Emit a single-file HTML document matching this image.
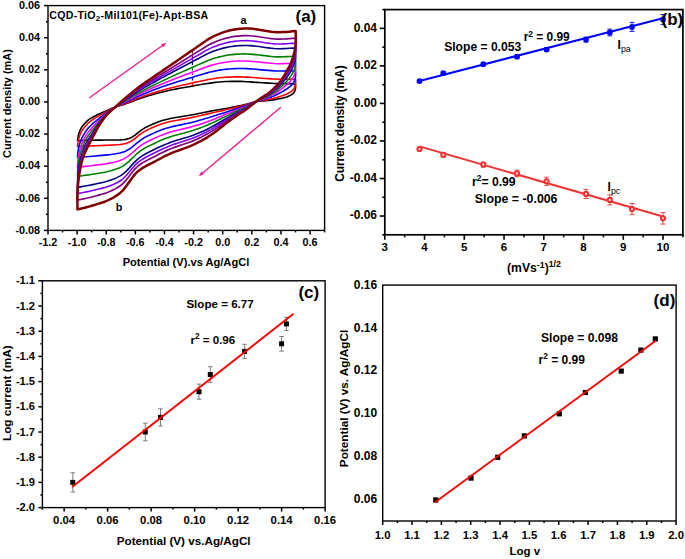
<!DOCTYPE html>
<html><head><meta charset="utf-8"><style>
html,body{margin:0;padding:0;background:#fff;}
body{width:685px;height:559px;overflow:hidden;}
svg{display:block;}
text{fill:#000;}
</style></head><body>
<svg width="685" height="559" viewBox="0 0 685 559" font-family='"Liberation Sans", sans-serif'>
<rect width="685" height="559" fill="#fff"/>
<path d="M77.50,140.50 L77.78,138.65 L78.07,136.80 L78.44,134.96 L78.97,133.16 L79.62,131.41 L80.37,129.69 L81.22,128.02 L82.21,126.43 L83.38,124.96 L84.64,123.58 L85.92,122.22 L87.26,120.91 L88.70,119.71 L90.24,118.64 L91.85,117.68 L93.50,116.79 L95.16,115.92 L96.83,115.08 L98.53,114.28 L100.23,113.51 L101.95,112.76 L103.67,112.01 L105.38,111.25 L107.10,110.50 L108.81,109.75 L110.53,109.00 L112.24,108.23 L113.94,107.45 L115.70,106.80 L118.75,105.89 L121.80,105.03 L124.85,104.11 L127.90,103.06 L130.95,101.88 L133.99,100.69 L137.04,99.53 L140.09,98.47 L143.14,97.48 L146.19,96.52 L149.24,95.59 L152.29,94.69 L155.34,93.81 L158.39,92.98 L161.44,92.19 L164.49,91.45 L167.54,90.75 L170.58,90.09 L173.63,89.46 L176.68,88.85 L179.73,88.28 L182.78,87.74 L185.83,87.21 L188.88,86.69 L191.93,86.14 L194.98,85.55 L198.03,85.01 L201.08,84.53 L204.13,84.05 L207.17,83.56 L210.22,83.09 L213.27,82.66 L216.32,82.27 L219.37,81.96 L222.42,81.72 L225.47,81.55 L228.52,81.44 L231.57,81.37 L234.62,81.35 L237.67,81.37 L240.72,81.42 L243.76,81.52 L246.81,81.69 L249.86,81.89 L252.91,82.11 L255.96,82.33 L259.01,82.54 L262.06,82.72 L265.11,82.91 L268.16,83.10 L271.21,83.28 L274.26,83.44 L277.31,83.58 L280.35,83.65 L283.40,83.64 L286.45,83.59 L289.50,83.60 L292.55,83.82 L295.60,84.20 L295.64,85.86 L295.56,87.52 L295.37,89.17 L294.89,90.76 L294.13,92.23 L293.09,93.52 L291.80,94.57 L290.36,95.39 L288.84,96.06 L287.29,96.65 L285.71,97.17 L284.12,97.63 L282.51,98.05 L280.89,98.42 L279.26,98.76 L277.63,99.07 L276.00,99.36 L274.36,99.63 L272.72,99.89 L271.07,100.14 L269.43,100.38 L267.78,100.58 L266.13,100.75 L264.47,100.89 L262.82,101.03 L261.16,101.17 L259.50,101.27 L257.85,101.38 L256.20,101.60 L253.17,102.32 L250.14,103.16 L247.11,103.99 L244.08,104.71 L241.06,105.41 L238.03,106.09 L235.00,106.75 L231.97,107.37 L228.94,107.95 L225.91,108.48 L222.88,108.99 L219.85,109.49 L216.83,110.00 L213.80,110.53 L210.77,111.11 L207.74,111.71 L204.71,112.34 L201.68,112.96 L198.65,113.58 L195.62,114.18 L192.59,114.74 L189.57,115.28 L186.54,115.80 L183.51,116.31 L180.48,116.82 L177.45,117.32 L174.42,117.79 L171.39,118.31 L168.36,118.97 L165.34,119.72 L162.31,120.57 L159.28,121.55 L156.25,122.71 L153.22,123.98 L150.19,125.29 L147.16,126.66 L144.13,128.31 L141.11,130.30 L138.08,132.67 L135.05,135.17 L132.02,137.19 L128.99,138.59 L125.96,139.36 L122.93,139.74 L119.90,139.89 L116.87,139.96 L113.85,140.02 L110.82,140.04 L107.79,140.05 L104.76,140.06 L101.73,140.08 L98.70,140.12 L95.67,140.17 L92.64,140.22 L89.62,140.27 L86.59,140.33 L83.56,140.39 L80.53,140.44 L77.50,140.50 Z" fill="none" stroke="#000000" stroke-width="1.6" stroke-linejoin="round"/>
<path d="M77.50,146.43 L77.75,144.40 L78.01,142.37 L78.35,140.35 L78.84,138.37 L79.45,136.43 L80.16,134.53 L80.97,132.67 L81.92,130.88 L83.02,129.21 L84.23,127.61 L85.47,126.03 L86.77,124.51 L88.18,123.09 L89.69,121.80 L91.29,120.61 L92.94,119.48 L94.61,118.40 L96.30,117.33 L98.00,116.30 L99.72,115.30 L101.45,114.31 L103.18,113.33 L104.92,112.36 L106.67,111.38 L108.44,110.43 L110.23,109.49 L112.03,108.54 L113.84,107.61 L115.70,106.80 L118.75,105.73 L121.80,104.71 L124.85,103.63 L127.90,102.44 L130.95,101.15 L133.99,99.85 L137.04,98.58 L140.09,97.41 L143.14,96.31 L146.19,95.25 L149.24,94.23 L152.29,93.22 L155.34,92.25 L158.39,91.31 L161.44,90.41 L164.49,89.55 L167.54,88.74 L170.58,87.95 L173.63,87.19 L176.68,86.46 L179.73,85.75 L182.78,85.08 L185.83,84.41 L188.88,83.75 L191.93,83.07 L194.98,82.35 L198.03,81.68 L201.08,81.07 L204.13,80.43 L207.17,79.81 L210.22,79.22 L213.27,78.69 L216.32,78.21 L219.37,77.82 L222.42,77.50 L225.47,77.26 L228.52,77.08 L231.57,76.96 L234.62,76.89 L237.67,76.87 L240.72,76.89 L243.76,76.97 L246.81,77.11 L249.86,77.30 L252.91,77.53 L255.96,77.76 L259.01,77.99 L262.06,78.21 L265.11,78.43 L268.16,78.64 L271.21,78.84 L274.26,79.03 L277.31,79.17 L280.35,79.23 L283.40,79.21 L286.45,79.14 L289.50,79.13 L292.55,79.30 L295.60,79.62 L295.65,81.40 L295.58,83.17 L295.41,84.93 L294.96,86.63 L294.24,88.23 L293.27,89.67 L292.04,90.87 L290.65,91.87 L289.20,92.73 L287.70,93.50 L286.17,94.21 L284.60,94.87 L283.01,95.47 L281.41,96.04 L279.80,96.57 L278.18,97.07 L276.55,97.55 L274.91,98.01 L273.25,98.45 L271.59,98.86 L269.91,99.26 L268.22,99.62 L266.52,99.94 L264.81,100.24 L263.08,100.50 L261.36,100.77 L259.63,101.00 L257.91,101.25 L256.20,101.60 L253.17,102.45 L250.14,103.43 L247.11,104.41 L244.08,105.26 L241.06,106.04 L238.03,106.83 L235.00,107.62 L231.97,108.37 L228.94,109.09 L225.91,109.78 L222.88,110.45 L219.85,111.11 L216.83,111.78 L213.80,112.46 L210.77,113.17 L207.74,113.89 L204.71,114.62 L201.68,115.34 L198.65,116.04 L195.62,116.72 L192.59,117.36 L189.57,117.96 L186.54,118.53 L183.51,119.09 L180.48,119.65 L177.45,120.20 L174.42,120.72 L171.39,121.31 L168.36,122.03 L165.34,122.84 L162.31,123.74 L159.28,124.78 L156.25,125.98 L153.22,127.28 L150.19,128.61 L147.16,129.99 L144.13,131.64 L141.11,133.62 L138.08,135.98 L135.05,138.52 L132.02,140.69 L128.99,142.35 L125.96,143.42 L122.93,144.09 L119.90,144.47 L116.87,144.73 L113.85,144.95 L110.82,145.11 L107.79,145.24 L104.76,145.36 L101.73,145.46 L98.70,145.58 L95.67,145.71 L92.64,145.84 L89.62,145.96 L86.59,146.08 L83.56,146.20 L80.53,146.31 L77.50,146.43 Z" fill="none" stroke="#ff0000" stroke-width="1.6" stroke-linejoin="round"/>
<line x1="192.4" y1="83.1" x2="192.4" y2="86.1" stroke="#ff0000" stroke-width="1.2"/>
<path d="M77.50,157.38 L77.69,155.02 L77.90,152.67 L78.18,150.32 L78.60,148.01 L79.14,145.73 L79.77,143.47 L80.50,141.26 L81.36,139.11 L82.37,137.05 L83.48,135.06 L84.64,133.09 L85.87,131.17 L87.21,129.34 L88.68,127.63 L90.26,126.02 L91.91,124.47 L93.60,122.97 L95.31,121.48 L97.04,120.03 L98.78,118.60 L100.52,117.19 L102.27,115.78 L104.07,114.39 L105.89,113.02 L107.75,111.68 L109.66,110.38 L111.63,109.12 L113.64,107.91 L115.70,106.80 L118.75,105.43 L121.80,104.11 L124.85,102.74 L127.90,101.30 L130.95,99.79 L133.99,98.29 L137.04,96.82 L140.09,95.44 L143.14,94.16 L146.19,92.92 L149.24,91.71 L152.29,90.52 L155.34,89.35 L158.39,88.21 L161.44,87.11 L164.49,86.04 L167.54,85.01 L170.58,84.00 L173.63,83.01 L176.68,82.03 L179.73,81.09 L182.78,80.16 L185.83,79.24 L188.88,78.33 L191.93,77.40 L194.98,76.45 L198.03,75.54 L201.08,74.66 L204.13,73.76 L207.17,72.87 L210.22,72.06 L213.27,71.35 L216.32,70.71 L219.37,70.16 L222.42,69.70 L225.47,69.33 L228.52,69.03 L231.57,68.81 L234.62,68.65 L237.67,68.55 L240.72,68.51 L243.76,68.54 L246.81,68.65 L249.86,68.83 L252.91,69.06 L255.96,69.32 L259.01,69.58 L262.06,69.86 L265.11,70.14 L268.16,70.40 L271.21,70.65 L274.26,70.87 L277.31,71.02 L280.35,71.07 L283.40,71.02 L286.45,70.92 L289.50,70.87 L292.55,70.96 L295.60,71.17 L295.66,73.14 L295.61,75.12 L295.47,77.09 L295.09,79.01 L294.46,80.84 L293.59,82.53 L292.46,84.03 L291.20,85.35 L289.86,86.55 L288.47,87.69 L287.02,88.75 L285.50,89.75 L283.94,90.71 L282.38,91.63 L280.80,92.51 L279.20,93.37 L277.58,94.20 L275.93,95.00 L274.25,95.77 L272.53,96.50 L270.79,97.19 L269.02,97.85 L267.24,98.46 L265.43,99.02 L263.58,99.53 L261.71,100.02 L259.86,100.50 L258.02,101.01 L256.20,101.60 L253.17,102.71 L250.14,103.93 L247.11,105.18 L244.08,106.28 L241.06,107.21 L238.03,108.21 L235.00,109.22 L231.97,110.23 L228.94,111.22 L225.91,112.19 L222.88,113.15 L219.85,114.10 L216.83,115.07 L213.80,116.03 L210.77,116.98 L207.74,117.92 L204.71,118.85 L201.68,119.74 L198.65,120.59 L195.62,121.41 L192.59,122.20 L189.57,122.92 L186.54,123.58 L183.51,124.23 L180.48,124.88 L177.45,125.52 L174.42,126.15 L171.39,126.85 L168.36,127.68 L165.34,128.60 L162.31,129.62 L159.28,130.75 L156.25,132.03 L153.22,133.38 L150.19,134.75 L147.16,136.16 L144.13,137.81 L141.11,139.77 L138.08,142.11 L135.05,144.71 L132.02,147.17 L128.99,149.31 L125.96,150.92 L122.93,152.14 L119.90,152.95 L116.87,153.54 L113.85,154.05 L110.82,154.48 L107.79,154.84 L104.76,155.16 L101.73,155.42 L98.70,155.67 L95.67,155.95 L92.64,156.22 L89.62,156.48 L86.59,156.71 L83.56,156.94 L80.53,157.16 L77.50,157.38 Z" fill="none" stroke="#0000ff" stroke-width="1.6" stroke-linejoin="round"/>
<line x1="192.4" y1="77.4" x2="192.4" y2="80.4" stroke="#0000ff" stroke-width="1.2"/>
<path d="M77.50,167.23 L77.64,164.58 L77.80,161.93 L78.02,159.29 L78.38,156.67 L78.85,154.08 L79.42,151.52 L80.08,148.98 L80.87,146.51 L81.79,144.10 L82.81,141.76 L83.89,139.44 L85.06,137.16 L86.34,134.96 L87.76,132.87 L89.32,130.88 L90.99,128.96 L92.68,127.07 L94.42,125.22 L96.17,123.39 L97.92,121.57 L99.68,119.77 L101.46,117.98 L103.30,116.23 L105.19,114.50 L107.14,112.81 L109.15,111.19 L111.27,109.64 L113.47,108.18 L115.70,106.80 L118.75,105.17 L121.80,103.56 L124.85,101.93 L127.90,100.27 L130.95,98.58 L133.99,96.90 L137.04,95.24 L140.09,93.68 L143.14,92.22 L146.19,90.82 L149.24,89.44 L152.29,88.09 L155.34,86.75 L158.39,85.44 L161.44,84.14 L164.49,82.89 L167.54,81.65 L170.58,80.44 L173.63,79.24 L176.68,78.05 L179.73,76.89 L182.78,75.73 L185.83,74.59 L188.88,73.45 L191.93,72.30 L194.98,71.14 L198.03,70.01 L201.08,68.90 L204.13,67.75 L207.17,66.63 L210.22,65.63 L213.27,64.75 L216.32,63.96 L219.37,63.28 L222.42,62.69 L225.47,62.19 L228.52,61.79 L231.57,61.47 L234.62,61.24 L237.67,61.07 L240.72,60.98 L243.76,60.97 L246.81,61.05 L249.86,61.21 L252.91,61.44 L255.96,61.72 L259.01,62.02 L262.06,62.35 L265.11,62.68 L268.16,62.99 L271.21,63.28 L274.26,63.53 L277.31,63.69 L280.35,63.72 L283.40,63.65 L286.45,63.53 L289.50,63.44 L292.55,63.45 L295.60,63.56 L295.67,65.72 L295.65,67.88 L295.53,70.03 L295.21,72.15 L294.66,74.19 L293.88,76.12 L292.85,77.88 L291.68,79.49 L290.45,81.00 L289.16,82.46 L287.78,83.84 L286.30,85.16 L284.78,86.42 L283.24,87.66 L281.70,88.87 L280.12,90.04 L278.50,91.18 L276.85,92.29 L275.14,93.36 L273.38,94.37 L271.58,95.34 L269.75,96.25 L267.89,97.13 L265.99,97.94 L264.02,98.66 L262.04,99.35 L260.07,100.05 L258.13,100.79 L256.20,101.60 L253.17,102.93 L250.14,104.38 L247.11,105.88 L244.08,107.19 L241.06,108.26 L238.03,109.44 L235.00,110.67 L231.97,111.90 L228.94,113.13 L225.91,114.35 L222.88,115.57 L219.85,116.79 L216.83,118.02 L213.80,119.23 L210.77,120.41 L207.74,121.55 L204.71,122.65 L201.68,123.70 L198.65,124.69 L195.62,125.63 L192.59,126.55 L189.57,127.37 L186.54,128.12 L183.51,128.85 L180.48,129.58 L177.45,130.32 L174.42,131.04 L171.39,131.84 L168.36,132.77 L165.34,133.79 L162.31,134.90 L159.28,136.12 L156.25,137.46 L153.22,138.87 L150.19,140.27 L147.16,141.70 L144.13,143.36 L141.11,145.29 L138.08,147.62 L135.05,150.28 L132.02,153.00 L128.99,155.56 L125.96,157.66 L122.93,159.38 L119.90,160.57 L116.87,161.46 L113.85,162.24 L110.82,162.91 L107.79,163.47 L104.76,163.98 L101.73,164.37 L98.70,164.75 L95.67,165.16 L92.64,165.56 L89.62,165.93 L86.59,166.27 L83.56,166.60 L80.53,166.92 L77.50,167.23 Z" fill="none" stroke="#ff00ff" stroke-width="1.6" stroke-linejoin="round"/>
<line x1="192.4" y1="72.3" x2="192.4" y2="75.3" stroke="#ff00ff" stroke-width="1.2"/>
<path d="M77.50,176.40 L77.60,173.47 L77.71,170.55 L77.88,167.63 L78.17,164.73 L78.59,161.85 L79.09,159.00 L79.69,156.17 L80.41,153.39 L81.25,150.67 L82.19,147.99 L83.20,145.34 L84.30,142.73 L85.54,140.19 L86.91,137.74 L88.46,135.40 L90.13,133.13 L91.83,130.90 L93.59,128.69 L95.37,126.51 L97.13,124.34 L98.90,122.17 L100.70,120.03 L102.59,117.93 L104.54,115.87 L106.56,113.86 L108.68,111.93 L110.94,110.13 L113.31,108.43 L115.70,106.80 L118.75,104.92 L121.80,103.06 L124.85,101.19 L127.90,99.31 L130.95,97.44 L133.99,95.60 L137.04,93.77 L140.09,92.04 L143.14,90.42 L146.19,88.86 L149.24,87.33 L152.29,85.83 L155.34,84.33 L158.39,82.85 L161.44,81.39 L164.49,79.95 L167.54,78.53 L170.58,77.13 L173.63,75.74 L176.68,74.35 L179.73,72.98 L182.78,71.62 L185.83,70.26 L188.88,68.91 L191.93,67.56 L194.98,66.20 L198.03,64.86 L201.08,63.55 L204.13,62.17 L207.17,60.83 L210.22,59.64 L213.27,58.60 L216.32,57.69 L219.37,56.87 L222.42,56.16 L225.47,55.56 L228.52,55.05 L231.57,54.65 L234.62,54.34 L237.67,54.12 L240.72,53.97 L243.76,53.92 L246.81,53.97 L249.86,54.12 L252.91,54.36 L255.96,54.66 L259.01,54.98 L262.06,55.36 L265.11,55.75 L268.16,56.10 L271.21,56.43 L274.26,56.70 L277.31,56.87 L280.35,56.89 L283.40,56.79 L286.45,56.65 L289.50,56.52 L292.55,56.47 L295.60,56.48 L295.68,58.81 L295.68,61.15 L295.59,63.47 L295.31,65.77 L294.84,68.01 L294.15,70.15 L293.21,72.16 L292.13,74.04 L291.00,75.84 L289.80,77.59 L288.48,79.27 L287.05,80.88 L285.56,82.43 L284.05,83.97 L282.53,85.48 L280.98,86.95 L279.36,88.38 L277.70,89.78 L275.98,91.12 L274.17,92.39 L272.31,93.61 L270.42,94.77 L268.49,95.88 L266.50,96.92 L264.44,97.85 L262.34,98.72 L260.27,99.63 L258.22,100.58 L256.20,101.60 L253.17,103.14 L250.14,104.79 L247.11,106.52 L244.08,108.04 L241.06,109.24 L238.03,110.59 L235.00,112.01 L231.97,113.45 L228.94,114.90 L225.91,116.37 L222.88,117.83 L219.85,119.29 L216.83,120.77 L213.80,122.22 L210.77,123.59 L207.74,124.92 L204.71,126.19 L201.68,127.38 L198.65,128.49 L195.62,129.56 L192.59,130.60 L189.57,131.52 L186.54,132.35 L183.51,133.15 L180.48,133.96 L177.45,134.77 L174.42,135.58 L171.39,136.48 L168.36,137.50 L165.34,138.61 L162.31,139.81 L159.28,141.11 L156.25,142.52 L153.22,143.97 L150.19,145.40 L147.16,146.86 L144.13,148.52 L141.11,150.43 L138.08,152.74 L135.05,155.46 L132.02,158.42 L128.99,161.38 L125.96,163.93 L122.93,166.12 L119.90,167.66 L116.87,168.83 L113.85,169.86 L110.82,170.75 L107.79,171.50 L104.76,172.17 L101.73,172.70 L98.70,173.20 L95.67,173.73 L92.64,174.25 L89.62,174.73 L86.59,175.16 L83.56,175.58 L80.53,175.99 L77.50,176.40 Z" fill="none" stroke="#008000" stroke-width="1.6" stroke-linejoin="round"/>
<line x1="192.4" y1="67.6" x2="192.4" y2="70.6" stroke="#008000" stroke-width="1.2"/>
<path d="M77.50,187.35 L77.54,184.10 L77.59,180.85 L77.70,177.60 L77.93,174.37 L78.27,171.15 L78.70,167.94 L79.22,164.76 L79.85,161.61 L80.60,158.51 L81.44,155.44 L82.37,152.40 L83.40,149.39 L84.57,146.44 L85.89,143.57 L87.42,140.81 L89.10,138.12 L90.82,135.47 L92.60,132.85 L94.40,130.25 L96.18,127.65 L97.97,125.05 L99.80,122.48 L101.74,119.97 L103.76,117.51 L105.87,115.12 L108.11,112.83 L110.54,110.71 L113.12,108.74 L115.70,106.80 L118.75,104.62 L121.80,102.46 L124.85,100.30 L127.90,98.17 L130.95,96.09 L133.99,94.05 L137.04,92.01 L140.09,90.08 L143.14,88.27 L146.19,86.53 L149.24,84.82 L152.29,83.12 L155.34,81.44 L158.39,79.76 L161.44,78.09 L164.49,76.44 L167.54,74.80 L170.58,73.18 L173.63,71.55 L176.68,69.93 L179.73,68.31 L182.78,66.70 L185.83,65.09 L188.88,63.49 L191.93,61.89 L194.98,60.29 L198.03,58.72 L201.08,57.14 L204.13,55.49 L207.17,53.89 L210.22,52.48 L213.27,51.26 L216.32,50.18 L219.37,49.22 L222.42,48.36 L225.47,47.62 L228.52,47.00 L231.57,46.50 L234.62,46.10 L237.67,45.80 L240.72,45.60 L243.76,45.50 L246.81,45.51 L249.86,45.64 L252.91,45.89 L255.96,46.21 L259.01,46.57 L262.06,47.01 L265.11,47.46 L268.16,47.86 L271.21,48.23 L274.26,48.54 L277.31,48.72 L280.35,48.72 L283.40,48.60 L286.45,48.43 L289.50,48.26 L292.55,48.12 L295.60,48.02 L295.69,50.56 L295.72,53.10 L295.65,55.63 L295.44,58.14 L295.06,60.62 L294.47,63.02 L293.64,65.32 L292.67,67.52 L291.65,69.67 L290.56,71.77 L289.33,73.81 L287.95,75.77 L286.49,77.67 L285.02,79.55 L283.53,81.42 L282.00,83.25 L280.39,85.03 L278.72,86.77 L276.97,88.44 L275.12,90.02 L273.19,91.54 L271.22,93.00 L269.21,94.40 L267.12,95.71 L264.93,96.88 L262.69,97.98 L260.50,99.13 L258.34,100.34 L256.20,101.60 L253.17,103.40 L250.14,105.29 L247.11,107.29 L244.08,109.05 L241.06,110.41 L238.03,111.97 L235.00,113.62 L231.97,115.31 L228.94,117.02 L225.91,118.77 L222.88,120.53 L219.85,122.29 L216.83,124.06 L213.80,125.78 L210.77,127.40 L207.74,128.95 L204.71,130.42 L201.68,131.78 L198.65,133.04 L195.62,134.25 L192.59,135.44 L189.57,136.48 L186.54,137.40 L183.51,138.29 L180.48,139.19 L177.45,140.10 L174.42,141.01 L171.39,142.02 L168.36,143.15 L165.34,144.38 L162.31,145.68 L159.28,147.08 L156.25,148.57 L153.22,150.07 L150.19,151.54 L147.16,153.02 L144.13,154.68 L141.11,156.58 L138.08,158.86 L135.05,161.65 L132.02,164.90 L128.99,168.33 L125.96,171.43 L122.93,174.17 L119.90,176.13 L116.87,177.64 L113.85,178.97 L110.82,180.12 L107.79,181.09 L104.76,181.97 L101.73,182.66 L98.70,183.30 L95.67,183.98 L92.64,184.63 L89.62,185.24 L86.59,185.79 L83.56,186.32 L80.53,186.84 L77.50,187.35 Z" fill="none" stroke="#000080" stroke-width="1.6" stroke-linejoin="round"/>
<line x1="192.4" y1="61.9" x2="192.4" y2="64.9" stroke="#000080" stroke-width="1.2"/>
<path d="M77.50,193.62 L77.51,190.18 L77.53,186.74 L77.60,183.31 L77.79,179.88 L78.09,176.47 L78.48,173.06 L78.96,169.68 L79.54,166.32 L80.22,163.00 L81.01,159.71 L81.89,156.44 L82.89,153.20 L84.02,150.02 L85.31,146.91 L86.83,143.90 L88.51,140.98 L90.24,138.08 L92.03,135.22 L93.85,132.38 L95.64,129.54 L97.43,126.69 L99.28,123.88 L101.25,121.13 L103.31,118.45 L105.48,115.84 L107.79,113.34 L110.32,111.04 L113.00,108.91 L115.70,106.80 L118.75,104.45 L121.80,102.11 L124.85,99.78 L127.90,97.51 L130.95,95.31 L133.99,93.16 L137.04,91.01 L140.09,88.95 L143.14,87.04 L146.19,85.19 L149.24,83.37 L152.29,81.57 L155.34,79.78 L158.39,77.99 L161.44,76.21 L164.49,74.43 L167.54,72.67 L170.58,70.91 L173.63,69.16 L176.68,67.40 L179.73,65.64 L182.78,63.88 L185.83,62.13 L188.88,60.38 L191.93,58.64 L194.98,56.91 L198.03,55.20 L201.08,53.48 L204.13,51.67 L207.17,49.92 L210.22,48.38 L213.27,47.06 L216.32,45.89 L219.37,44.84 L222.42,43.90 L225.47,43.08 L228.52,42.39 L231.57,41.83 L234.62,41.38 L237.67,41.04 L240.72,40.80 L243.76,40.68 L246.81,40.67 L249.86,40.79 L252.91,41.04 L255.96,41.37 L259.01,41.76 L262.06,42.23 L265.11,42.72 L268.16,43.14 L271.21,43.54 L274.26,43.87 L277.31,44.06 L280.35,44.05 L283.40,43.91 L286.45,43.73 L289.50,43.53 L292.55,43.34 L295.60,43.18 L295.69,45.84 L295.74,48.49 L295.69,51.14 L295.51,53.78 L295.19,56.39 L294.65,58.94 L293.89,61.40 L292.98,63.79 L292.03,66.14 L291.00,68.45 L289.82,70.69 L288.46,72.84 L287.02,74.94 L285.57,77.03 L284.10,79.10 L282.58,81.14 L280.97,83.11 L279.31,85.05 L277.54,86.91 L275.66,88.67 L273.70,90.36 L271.69,91.99 L269.62,93.55 L267.48,95.02 L265.22,96.33 L262.90,97.55 L260.63,98.84 L258.40,100.20 L256.20,101.60 L253.17,103.54 L250.14,105.57 L247.11,107.74 L244.08,109.64 L241.06,111.07 L238.03,112.75 L235.00,114.54 L231.97,116.37 L228.94,118.24 L225.91,120.15 L222.88,122.08 L219.85,124.00 L216.83,125.94 L213.80,127.82 L210.77,129.58 L207.74,131.26 L204.71,132.84 L201.68,134.30 L198.65,135.65 L195.62,136.94 L192.59,138.21 L189.57,139.31 L186.54,140.29 L183.51,141.23 L180.48,142.18 L177.45,143.15 L174.42,144.12 L171.39,145.19 L168.36,146.39 L165.34,147.68 L162.31,149.04 L159.28,150.50 L156.25,152.03 L153.22,153.57 L150.19,155.05 L147.16,156.55 L144.13,158.21 L141.11,160.09 L138.08,162.37 L135.05,165.20 L132.02,168.61 L128.99,172.32 L125.96,175.72 L122.93,178.78 L119.90,180.98 L116.87,182.68 L113.85,184.18 L110.82,185.48 L107.79,186.59 L104.76,187.58 L101.73,188.35 L98.70,189.07 L95.67,189.84 L92.64,190.58 L89.62,191.26 L86.59,191.88 L83.56,192.47 L80.53,193.05 L77.50,193.62 Z" fill="none" stroke="#8000ff" stroke-width="1.6" stroke-linejoin="round"/>
<line x1="192.4" y1="58.6" x2="192.4" y2="61.6" stroke="#8000ff" stroke-width="1.2"/>
<path d="M77.50,200.17 L77.48,196.53 L77.46,192.90 L77.50,189.26 L77.65,185.64 L77.90,182.02 L78.25,178.41 L78.68,174.81 L79.21,171.24 L79.84,167.68 L80.56,164.16 L81.39,160.65 L82.35,157.18 L83.44,153.75 L84.70,150.39 L86.21,147.13 L87.90,143.96 L89.63,140.81 L91.44,137.70 L93.27,134.61 L95.08,131.51 L96.88,128.41 L98.74,125.34 L100.74,122.35 L102.84,119.43 L105.07,116.59 L107.45,113.88 L110.08,111.38 L112.89,109.09 L115.70,106.80 L118.75,104.28 L121.80,101.75 L124.85,99.25 L127.90,96.83 L130.95,94.50 L133.99,92.23 L137.04,89.96 L140.09,87.78 L143.14,85.75 L146.19,83.79 L149.24,81.87 L152.29,79.96 L155.34,78.05 L158.39,76.14 L161.44,74.24 L164.49,72.34 L167.54,70.44 L170.58,68.55 L173.63,66.65 L176.68,64.75 L179.73,62.85 L182.78,60.94 L185.83,59.04 L188.88,57.14 L191.93,55.26 L194.98,53.38 L198.03,51.52 L201.08,49.65 L204.13,47.68 L207.17,45.78 L210.22,44.11 L213.27,42.68 L216.32,41.41 L219.37,40.26 L222.42,39.24 L225.47,38.34 L228.52,37.58 L231.57,36.96 L234.62,36.46 L237.67,36.07 L240.72,35.80 L243.76,35.64 L246.81,35.62 L249.86,35.73 L252.91,35.98 L255.96,36.33 L259.01,36.73 L262.06,37.24 L265.11,37.77 L268.16,38.22 L271.21,38.65 L274.26,39.00 L277.31,39.19 L280.35,39.17 L283.40,39.02 L286.45,38.82 L289.50,38.59 L292.55,38.36 L295.60,38.13 L295.70,40.90 L295.76,43.68 L295.73,46.46 L295.59,49.22 L295.32,51.97 L294.84,54.68 L294.14,57.32 L293.31,59.90 L292.42,62.45 L291.46,64.97 L290.32,67.42 L289.00,69.79 L287.58,72.10 L286.15,74.39 L284.70,76.68 L283.19,78.93 L281.59,81.11 L279.92,83.25 L278.14,85.31 L276.22,87.26 L274.22,89.12 L272.17,90.93 L270.05,92.67 L267.85,94.30 L265.51,95.75 L263.11,97.11 L260.77,98.54 L258.47,100.05 L256.20,101.60 L253.17,103.69 L250.14,105.87 L247.11,108.20 L244.08,110.24 L241.06,111.77 L238.03,113.57 L235.00,115.50 L231.97,117.48 L228.94,119.50 L225.91,121.59 L222.88,123.69 L219.85,125.79 L216.83,127.91 L213.80,129.95 L210.77,131.86 L207.74,133.66 L204.71,135.36 L201.68,136.93 L198.65,138.36 L195.62,139.74 L192.59,141.10 L189.57,142.27 L186.54,143.31 L183.51,144.30 L180.48,145.31 L177.45,146.33 L174.42,147.37 L171.39,148.50 L168.36,149.77 L165.34,151.13 L162.31,152.55 L159.28,154.07 L156.25,155.65 L153.22,157.21 L150.19,158.72 L147.16,160.23 L144.13,161.90 L141.11,163.76 L138.08,166.03 L135.05,168.90 L132.02,172.48 L128.99,176.47 L125.96,180.20 L122.93,183.59 L119.90,186.04 L116.87,187.94 L113.85,189.62 L110.82,191.08 L107.79,192.32 L104.76,193.44 L101.73,194.30 L98.70,195.11 L95.67,195.96 L92.64,196.78 L89.62,197.54 L86.59,198.23 L83.56,198.89 L80.53,199.53 L77.50,200.17 Z" fill="none" stroke="#800080" stroke-width="1.7" stroke-linejoin="round"/>
<line x1="192.4" y1="55.3" x2="192.4" y2="58.3" stroke="#800080" stroke-width="1.2"/>
<path d="M77.50,209.40 L77.43,205.49 L77.37,201.58 L77.35,197.67 L77.44,193.76 L77.64,189.85 L77.92,185.95 L78.29,182.05 L78.74,178.17 L79.29,174.29 L79.93,170.44 L80.69,166.60 L81.59,162.79 L82.63,159.02 L83.85,155.30 L85.34,151.69 L87.03,148.16 L88.77,144.66 L90.60,141.20 L92.46,137.76 L94.28,134.30 L96.09,130.83 L97.98,127.41 L100.02,124.07 L102.19,120.81 L104.49,117.65 L106.97,114.63 L109.74,111.87 L112.73,109.34 L115.70,106.80 L118.75,104.03 L121.80,101.24 L124.85,98.50 L127.90,95.87 L130.95,93.36 L133.99,90.92 L137.04,88.47 L140.09,86.13 L143.14,83.94 L146.19,81.82 L149.24,79.75 L152.29,77.68 L155.34,75.61 L158.39,73.54 L161.44,71.46 L164.49,69.38 L167.54,67.30 L170.58,65.22 L173.63,63.13 L176.68,61.03 L179.73,58.91 L182.78,56.80 L185.83,54.68 L188.88,52.57 L191.93,50.48 L194.98,48.41 L198.03,46.34 L201.08,44.25 L204.13,42.06 L207.17,39.93 L210.22,38.08 L213.27,36.49 L216.32,35.08 L219.37,33.81 L222.42,32.66 L225.47,31.66 L228.52,30.80 L231.57,30.08 L234.62,29.51 L237.67,29.07 L240.72,28.74 L243.76,28.55 L246.81,28.49 L249.86,28.59 L252.91,28.85 L255.96,29.21 L259.01,29.65 L262.06,30.21 L265.11,30.79 L268.16,31.28 L271.21,31.74 L274.26,32.12 L277.31,32.32 L280.35,32.29 L283.40,32.11 L286.45,31.89 L289.50,31.63 L292.55,31.32 L295.60,31.00 L295.71,33.95 L295.79,36.90 L295.79,39.85 L295.70,42.80 L295.50,45.74 L295.11,48.67 L294.50,51.55 L293.76,54.41 L292.98,57.25 L292.10,60.07 L291.04,62.82 L289.76,65.48 L288.36,68.08 L286.96,70.67 L285.54,73.26 L284.05,75.81 L282.45,78.29 L280.78,80.72 L278.97,83.05 L277.02,85.26 L274.97,87.38 L272.85,89.43 L270.66,91.41 L268.37,93.28 L265.93,94.93 L263.42,96.48 L260.97,98.12 L258.57,99.84 L256.20,101.60 L253.17,103.91 L250.14,106.29 L247.11,108.85 L244.08,111.10 L241.06,112.76 L238.03,114.73 L235.00,116.86 L231.97,119.04 L228.94,121.29 L225.91,123.62 L222.88,125.97 L219.85,128.31 L216.83,130.68 L213.80,132.96 L210.77,135.07 L207.74,137.06 L204.71,138.92 L201.68,140.63 L198.65,142.20 L195.62,143.69 L192.59,145.17 L189.57,146.45 L186.54,147.57 L183.51,148.63 L180.48,149.72 L177.45,150.82 L174.42,151.94 L171.39,153.17 L168.36,154.53 L165.34,155.99 L162.31,157.50 L159.28,159.10 L156.25,160.74 L153.22,162.35 L150.19,163.89 L147.16,165.43 L144.13,167.10 L141.11,168.94 L138.08,171.19 L135.05,174.11 L132.02,177.95 L128.99,182.33 L125.96,186.52 L122.93,190.38 L119.90,193.18 L116.87,195.37 L113.85,197.30 L110.82,198.98 L107.79,200.41 L104.76,201.70 L101.73,202.69 L98.70,203.61 L95.67,204.59 L92.64,205.53 L89.62,206.40 L86.59,207.19 L83.56,207.94 L80.53,208.67 L77.50,209.40 Z" fill="none" stroke="#800000" stroke-width="2.5" stroke-linejoin="round"/>
<line x1="192.4" y1="50.5" x2="192.4" y2="53.5" stroke="#800000" stroke-width="1.2"/>
<line x1="89.10" y1="97.90" x2="162.57" y2="45.53" stroke="#f0148c" stroke-width="1.25"/>
<path d="M166.40,42.80 L163.27,47.37 L161.06,44.27 Z" fill="#f0148c"/>
<line x1="280.80" y1="107.30" x2="202.40" y2="173.18" stroke="#f0148c" stroke-width="1.25"/>
<path d="M198.80,176.20 L201.56,171.40 L204.00,174.31 Z" fill="#f0148c"/>
<rect x="48.00" y="5.60" width="276.60" height="224.80" fill="none" stroke="#000" stroke-width="1.40"/>
<line x1="48.00" y1="230.40" x2="48.00" y2="234.40" stroke="#000" stroke-width="1.50"/>
<line x1="77.12" y1="230.40" x2="77.12" y2="234.40" stroke="#000" stroke-width="1.50"/>
<line x1="106.23" y1="230.40" x2="106.23" y2="234.40" stroke="#000" stroke-width="1.50"/>
<line x1="135.35" y1="230.40" x2="135.35" y2="234.40" stroke="#000" stroke-width="1.50"/>
<line x1="164.46" y1="230.40" x2="164.46" y2="234.40" stroke="#000" stroke-width="1.50"/>
<line x1="193.58" y1="230.40" x2="193.58" y2="234.40" stroke="#000" stroke-width="1.50"/>
<line x1="222.69" y1="230.40" x2="222.69" y2="234.40" stroke="#000" stroke-width="1.50"/>
<line x1="251.81" y1="230.40" x2="251.81" y2="234.40" stroke="#000" stroke-width="1.50"/>
<line x1="280.93" y1="230.40" x2="280.93" y2="234.40" stroke="#000" stroke-width="1.50"/>
<line x1="310.04" y1="230.40" x2="310.04" y2="234.40" stroke="#000" stroke-width="1.50"/>
<line x1="62.56" y1="230.40" x2="62.56" y2="232.40" stroke="#000" stroke-width="1.50"/>
<line x1="91.67" y1="230.40" x2="91.67" y2="232.40" stroke="#000" stroke-width="1.50"/>
<line x1="120.79" y1="230.40" x2="120.79" y2="232.40" stroke="#000" stroke-width="1.50"/>
<line x1="149.91" y1="230.40" x2="149.91" y2="232.40" stroke="#000" stroke-width="1.50"/>
<line x1="179.02" y1="230.40" x2="179.02" y2="232.40" stroke="#000" stroke-width="1.50"/>
<line x1="208.14" y1="230.40" x2="208.14" y2="232.40" stroke="#000" stroke-width="1.50"/>
<line x1="237.25" y1="230.40" x2="237.25" y2="232.40" stroke="#000" stroke-width="1.50"/>
<line x1="266.37" y1="230.40" x2="266.37" y2="232.40" stroke="#000" stroke-width="1.50"/>
<line x1="295.48" y1="230.40" x2="295.48" y2="232.40" stroke="#000" stroke-width="1.50"/>
<line x1="324.60" y1="230.40" x2="324.60" y2="232.40" stroke="#000" stroke-width="1.50"/>
<line x1="48.00" y1="230.40" x2="44.00" y2="230.40" stroke="#000" stroke-width="1.50"/>
<line x1="48.00" y1="198.29" x2="44.00" y2="198.29" stroke="#000" stroke-width="1.50"/>
<line x1="48.00" y1="166.17" x2="44.00" y2="166.17" stroke="#000" stroke-width="1.50"/>
<line x1="48.00" y1="134.06" x2="44.00" y2="134.06" stroke="#000" stroke-width="1.50"/>
<line x1="48.00" y1="101.94" x2="44.00" y2="101.94" stroke="#000" stroke-width="1.50"/>
<line x1="48.00" y1="69.83" x2="44.00" y2="69.83" stroke="#000" stroke-width="1.50"/>
<line x1="48.00" y1="37.71" x2="44.00" y2="37.71" stroke="#000" stroke-width="1.50"/>
<line x1="48.00" y1="5.60" x2="44.00" y2="5.60" stroke="#000" stroke-width="1.50"/>
<line x1="48.00" y1="214.34" x2="46.00" y2="214.34" stroke="#000" stroke-width="1.50"/>
<line x1="48.00" y1="182.23" x2="46.00" y2="182.23" stroke="#000" stroke-width="1.50"/>
<line x1="48.00" y1="150.11" x2="46.00" y2="150.11" stroke="#000" stroke-width="1.50"/>
<line x1="48.00" y1="118.00" x2="46.00" y2="118.00" stroke="#000" stroke-width="1.50"/>
<line x1="48.00" y1="85.89" x2="46.00" y2="85.89" stroke="#000" stroke-width="1.50"/>
<line x1="48.00" y1="53.77" x2="46.00" y2="53.77" stroke="#000" stroke-width="1.50"/>
<line x1="48.00" y1="21.66" x2="46.00" y2="21.66" stroke="#000" stroke-width="1.50"/>
<text x="48.0" y="245.9" font-size="10.80" font-weight="bold" text-anchor="middle" >-1.2</text>
<text x="77.1" y="245.9" font-size="10.80" font-weight="bold" text-anchor="middle" >-1.0</text>
<text x="106.2" y="245.9" font-size="10.80" font-weight="bold" text-anchor="middle" >-0.8</text>
<text x="135.3" y="245.9" font-size="10.80" font-weight="bold" text-anchor="middle" >-0.6</text>
<text x="164.5" y="245.9" font-size="10.80" font-weight="bold" text-anchor="middle" >-0.4</text>
<text x="193.6" y="245.9" font-size="10.80" font-weight="bold" text-anchor="middle" >-0.2</text>
<text x="222.7" y="245.9" font-size="10.80" font-weight="bold" text-anchor="middle" >0.0</text>
<text x="251.8" y="245.9" font-size="10.80" font-weight="bold" text-anchor="middle" >0.2</text>
<text x="280.9" y="245.9" font-size="10.80" font-weight="bold" text-anchor="middle" >0.4</text>
<text x="310.0" y="245.9" font-size="10.80" font-weight="bold" text-anchor="middle" >0.6</text>
<text x="40.0" y="233.6" font-size="10.80" font-weight="bold" text-anchor="end" >-0.08</text>
<text x="40.0" y="201.5" font-size="10.80" font-weight="bold" text-anchor="end" >-0.06</text>
<text x="40.0" y="169.4" font-size="10.80" font-weight="bold" text-anchor="end" >-0.04</text>
<text x="40.0" y="137.3" font-size="10.80" font-weight="bold" text-anchor="end" >-0.02</text>
<text x="40.0" y="105.1" font-size="10.80" font-weight="bold" text-anchor="end" >0.00</text>
<text x="40.0" y="73.0" font-size="10.80" font-weight="bold" text-anchor="end" >0.02</text>
<text x="40.0" y="40.9" font-size="10.80" font-weight="bold" text-anchor="end" >0.04</text>
<text x="40.0" y="8.8" font-size="10.80" font-weight="bold" text-anchor="end" >0.06</text>
<text x="122.7" y="265.6" font-size="11.10" font-weight="bold" text-anchor="start" >Potential (V).vs Ag/AgCl</text>
<text transform="translate(10.9,103.5) rotate(-90)" font-size="10.95" font-weight="bold" text-anchor="middle">Current density (mA)</text>
<text x="49.2" y="18.6" font-size="10.6" font-weight="bold" letter-spacing="0.3">CQD-TiO<tspan font-size="7.8" dy="2.8">2</tspan><tspan dy="-2.8">-Mil101(Fe)-Apt-BSA</tspan></text>
<text x="243.5" y="24.0" font-size="11.00" font-weight="bold" text-anchor="middle" >a</text>
<text x="119.0" y="210.6" font-size="10.80" font-weight="bold" text-anchor="middle" >b</text>
<text x="295.5" y="22.3" font-size="17.00" font-weight="bold" text-anchor="start" >(a)</text>

<line x1="419.50" y1="80.91" x2="663.82" y2="18.05" stroke="#0000ff" stroke-width="2"/>
<line x1="419.50" y1="146.41" x2="663.82" y2="216.78" stroke="#ee3333" stroke-width="2"/>
<path d="M419.5,79.6 V82.6 M417.0,79.6 H422.0 M417.0,82.6 H422.0" stroke="#0000ff" stroke-width="0.9" fill="none"/>
<circle cx="419.5" cy="81.1" r="2.9" fill="#0000ff"/>
<path d="M443.3,71.7 V74.7 M440.8,71.7 H445.8 M440.8,74.7 H445.8" stroke="#0000ff" stroke-width="0.9" fill="none"/>
<circle cx="443.3" cy="73.2" r="2.9" fill="#0000ff"/>
<path d="M483.3,62.7 V65.7 M480.8,62.7 H485.8 M480.8,65.7 H485.8" stroke="#0000ff" stroke-width="0.9" fill="none"/>
<circle cx="483.3" cy="64.2" r="2.9" fill="#0000ff"/>
<path d="M517.0,55.0 V58.4 M514.5,55.0 H519.5 M514.5,58.4 H519.5" stroke="#0000ff" stroke-width="0.9" fill="none"/>
<circle cx="517.0" cy="56.7" r="2.9" fill="#0000ff"/>
<path d="M546.6,47.7 V51.4 M544.1,47.7 H549.1 M544.1,51.4 H549.1" stroke="#0000ff" stroke-width="0.9" fill="none"/>
<circle cx="546.6" cy="49.6" r="2.9" fill="#0000ff"/>
<path d="M586.0,37.2 V42.1 M583.5,37.2 H588.5 M583.5,42.1 H588.5" stroke="#0000ff" stroke-width="0.9" fill="none"/>
<circle cx="586.0" cy="39.6" r="2.9" fill="#0000ff"/>
<path d="M609.8,29.1 V35.9 M607.3,29.1 H612.3 M607.3,35.9 H612.3" stroke="#0000ff" stroke-width="0.9" fill="none"/>
<circle cx="609.8" cy="32.5" r="2.9" fill="#0000ff"/>
<path d="M632.0,22.4 V31.4 M629.5,22.4 H634.5 M629.5,31.4 H634.5" stroke="#0000ff" stroke-width="0.9" fill="none"/>
<circle cx="632.0" cy="26.9" r="2.9" fill="#0000ff"/>
<path d="M663.0,14.5 V24.6 M660.5,14.5 H665.5 M660.5,24.6 H665.5" stroke="#0000ff" stroke-width="0.9" fill="none"/>
<circle cx="663.0" cy="19.5" r="2.9" fill="#0000ff"/>
<path d="M419.5,147.2 V150.9 M417.0,147.2 H422.0 M417.0,150.9 H422.0" stroke="#ee3333" stroke-width="0.9" fill="none"/>
<circle cx="419.5" cy="149.0" r="2.1" fill="#fdd" stroke="#ee3333" stroke-width="2.0"/>
<path d="M443.3,153.0 V156.7 M440.8,153.0 H445.8 M440.8,156.7 H445.8" stroke="#ee3333" stroke-width="0.9" fill="none"/>
<circle cx="443.3" cy="154.9" r="2.1" fill="#fdd" stroke="#ee3333" stroke-width="2.0"/>
<path d="M483.3,162.2 V167.1 M480.8,162.2 H485.8 M480.8,167.1 H485.8" stroke="#ee3333" stroke-width="0.9" fill="none"/>
<circle cx="483.3" cy="164.6" r="2.1" fill="#fdd" stroke="#ee3333" stroke-width="2.0"/>
<path d="M517.0,170.1 V176.8 M514.5,170.1 H519.5 M514.5,176.8 H519.5" stroke="#ee3333" stroke-width="0.9" fill="none"/>
<circle cx="517.0" cy="173.4" r="2.1" fill="#fdd" stroke="#ee3333" stroke-width="2.0"/>
<path d="M546.6,177.2 V185.4 M544.1,177.2 H549.1 M544.1,185.4 H549.1" stroke="#ee3333" stroke-width="0.9" fill="none"/>
<circle cx="546.6" cy="181.3" r="2.1" fill="#fdd" stroke="#ee3333" stroke-width="2.0"/>
<path d="M586.0,189.3 V198.5 M583.5,189.3 H588.5 M583.5,198.5 H588.5" stroke="#ee3333" stroke-width="0.9" fill="none"/>
<circle cx="586.0" cy="193.9" r="2.1" fill="#fdd" stroke="#ee3333" stroke-width="2.0"/>
<path d="M609.8,194.9 V204.9 M607.3,194.9 H612.3 M607.3,204.9 H612.3" stroke="#ee3333" stroke-width="0.9" fill="none"/>
<circle cx="609.8" cy="199.9" r="2.1" fill="#fdd" stroke="#ee3333" stroke-width="2.0"/>
<path d="M632.0,203.5 V214.7 M629.5,203.5 H634.5 M629.5,214.7 H634.5" stroke="#ee3333" stroke-width="0.9" fill="none"/>
<circle cx="632.0" cy="209.1" r="2.1" fill="#fdd" stroke="#ee3333" stroke-width="2.0"/>
<path d="M663.0,212.5 V224.1 M660.5,212.5 H665.5 M660.5,224.1 H665.5" stroke="#ee3333" stroke-width="0.9" fill="none"/>
<circle cx="663.0" cy="218.3" r="2.1" fill="#fdd" stroke="#ee3333" stroke-width="2.0"/>
<rect x="384.80" y="9.60" width="298.10" height="225.20" fill="none" stroke="#000" stroke-width="1.70"/>
<line x1="384.80" y1="234.80" x2="384.80" y2="239.80" stroke="#000" stroke-width="1.60"/>
<line x1="424.55" y1="234.80" x2="424.55" y2="239.80" stroke="#000" stroke-width="1.60"/>
<line x1="464.29" y1="234.80" x2="464.29" y2="239.80" stroke="#000" stroke-width="1.60"/>
<line x1="504.04" y1="234.80" x2="504.04" y2="239.80" stroke="#000" stroke-width="1.60"/>
<line x1="543.79" y1="234.80" x2="543.79" y2="239.80" stroke="#000" stroke-width="1.60"/>
<line x1="583.53" y1="234.80" x2="583.53" y2="239.80" stroke="#000" stroke-width="1.60"/>
<line x1="623.28" y1="234.80" x2="623.28" y2="239.80" stroke="#000" stroke-width="1.60"/>
<line x1="663.03" y1="234.80" x2="663.03" y2="239.80" stroke="#000" stroke-width="1.60"/>
<line x1="404.67" y1="234.80" x2="404.67" y2="237.30" stroke="#000" stroke-width="1.60"/>
<line x1="444.42" y1="234.80" x2="444.42" y2="237.30" stroke="#000" stroke-width="1.60"/>
<line x1="484.17" y1="234.80" x2="484.17" y2="237.30" stroke="#000" stroke-width="1.60"/>
<line x1="523.91" y1="234.80" x2="523.91" y2="237.30" stroke="#000" stroke-width="1.60"/>
<line x1="563.66" y1="234.80" x2="563.66" y2="237.30" stroke="#000" stroke-width="1.60"/>
<line x1="603.41" y1="234.80" x2="603.41" y2="237.30" stroke="#000" stroke-width="1.60"/>
<line x1="643.15" y1="234.80" x2="643.15" y2="237.30" stroke="#000" stroke-width="1.60"/>
<line x1="682.90" y1="234.80" x2="682.90" y2="237.30" stroke="#000" stroke-width="1.60"/>
<line x1="384.80" y1="216.03" x2="379.80" y2="216.03" stroke="#000" stroke-width="1.60"/>
<line x1="384.80" y1="178.50" x2="379.80" y2="178.50" stroke="#000" stroke-width="1.60"/>
<line x1="384.80" y1="140.97" x2="379.80" y2="140.97" stroke="#000" stroke-width="1.60"/>
<line x1="384.80" y1="103.43" x2="379.80" y2="103.43" stroke="#000" stroke-width="1.60"/>
<line x1="384.80" y1="65.90" x2="379.80" y2="65.90" stroke="#000" stroke-width="1.60"/>
<line x1="384.80" y1="28.37" x2="379.80" y2="28.37" stroke="#000" stroke-width="1.60"/>
<line x1="384.80" y1="234.80" x2="382.30" y2="234.80" stroke="#000" stroke-width="1.60"/>
<line x1="384.80" y1="197.27" x2="382.30" y2="197.27" stroke="#000" stroke-width="1.60"/>
<line x1="384.80" y1="159.73" x2="382.30" y2="159.73" stroke="#000" stroke-width="1.60"/>
<line x1="384.80" y1="122.20" x2="382.30" y2="122.20" stroke="#000" stroke-width="1.60"/>
<line x1="384.80" y1="84.67" x2="382.30" y2="84.67" stroke="#000" stroke-width="1.60"/>
<line x1="384.80" y1="47.13" x2="382.30" y2="47.13" stroke="#000" stroke-width="1.60"/>
<line x1="384.80" y1="9.60" x2="382.30" y2="9.60" stroke="#000" stroke-width="1.60"/>
<text x="384.8" y="251.3" font-size="11.50" font-weight="bold" text-anchor="middle" >3</text>
<text x="424.5" y="251.3" font-size="11.50" font-weight="bold" text-anchor="middle" >4</text>
<text x="464.3" y="251.3" font-size="11.50" font-weight="bold" text-anchor="middle" >5</text>
<text x="504.0" y="251.3" font-size="11.50" font-weight="bold" text-anchor="middle" >6</text>
<text x="543.8" y="251.3" font-size="11.50" font-weight="bold" text-anchor="middle" >7</text>
<text x="583.5" y="251.3" font-size="11.50" font-weight="bold" text-anchor="middle" >8</text>
<text x="623.3" y="251.3" font-size="11.50" font-weight="bold" text-anchor="middle" >9</text>
<text x="663.0" y="251.3" font-size="11.50" font-weight="bold" text-anchor="middle" >10</text>
<text x="377.0" y="219.3" font-size="12.00" font-weight="bold" text-anchor="end" >-0.06</text>
<text x="377.0" y="181.8" font-size="12.00" font-weight="bold" text-anchor="end" >-0.04</text>
<text x="377.0" y="144.3" font-size="12.00" font-weight="bold" text-anchor="end" >-0.02</text>
<text x="377.0" y="106.7" font-size="12.00" font-weight="bold" text-anchor="end" >0.00</text>
<text x="377.0" y="69.2" font-size="12.00" font-weight="bold" text-anchor="end" >0.02</text>
<text x="377.0" y="31.7" font-size="12.00" font-weight="bold" text-anchor="end" >0.04</text>
<text transform="translate(343.7,123.6) rotate(-90)" font-size="12" letter-spacing="-0.16" font-weight="bold" text-anchor="middle">Current density (mA)</text>
<text x="507.0" y="272.4" font-size="12.2" font-weight="bold">(mVs<tspan font-size="8.8" dy="-4.2">-1</tspan><tspan dy="4.2">)</tspan><tspan font-size="8.8" dy="-5.0">1/2</tspan></text>
<text x="444.2" y="50.6" font-size="12.1" font-weight="bold">Slope = 0.053</text>
<text x="523.7" y="41.2" font-size="11.9" font-weight="bold">r<tspan font-size="8.4" dy="-4.6">2</tspan><tspan dy="4.6"> = 0.99</tspan></text>
<text x="472" y="186" font-size="12.2" font-weight="bold">r<tspan font-size="8.4" dy="-4.6">2</tspan><tspan dy="4.6">= 0.99</tspan></text>
<text x="474.8" y="203.3" font-size="12.35" font-weight="bold">Slope = -0.006</text>
<text x="617.6" y="49.0" font-size="12" font-weight="bold">I<tspan font-size="8.8" font-weight="normal" dy="3">pa</tspan></text>
<text x="607.6" y="191.4" font-size="12" font-weight="bold">I<tspan font-size="8.8" font-weight="normal" dy="3">pc</tspan></text>
<text x="661.5" y="24.8" font-size="17.00" font-weight="bold" text-anchor="start" >(b)</text>

<path d="M72.8,472.8 V492.0 M70.5,472.8 H75.1 M70.5,492.0 H75.1" stroke="#707070" stroke-width="0.9" fill="none"/>
<rect x="70.3" y="479.9" width="5" height="5" fill="#000"/>
<path d="M145.3,423.2 V440.8 M143.0,423.2 H147.6 M143.0,440.8 H147.6" stroke="#707070" stroke-width="0.9" fill="none"/>
<rect x="142.8" y="429.5" width="5" height="5" fill="#000"/>
<path d="M160.5,408.8 V426.0 M158.2,408.8 H162.8 M158.2,426.0 H162.8" stroke="#707070" stroke-width="0.9" fill="none"/>
<rect x="158.0" y="414.9" width="5" height="5" fill="#000"/>
<path d="M199.0,384.1 V399.2 M196.7,384.1 H201.3 M196.7,399.2 H201.3" stroke="#707070" stroke-width="0.9" fill="none"/>
<rect x="196.5" y="389.2" width="5" height="5" fill="#000"/>
<path d="M210.3,366.7 V382.4 M208.0,366.7 H212.6 M208.0,382.4 H212.6" stroke="#707070" stroke-width="0.9" fill="none"/>
<rect x="207.8" y="372.0" width="5" height="5" fill="#000"/>
<path d="M244.6,344.3 V358.4 M242.3,344.3 H246.9 M242.3,358.4 H246.9" stroke="#707070" stroke-width="0.9" fill="none"/>
<rect x="242.1" y="348.9" width="5" height="5" fill="#000"/>
<path d="M281.6,336.5 V351.1 M279.3,336.5 H283.9 M279.3,351.1 H283.9" stroke="#707070" stroke-width="0.9" fill="none"/>
<rect x="279.1" y="341.3" width="5" height="5" fill="#000"/>
<path d="M286.4,317.3 V330.4 M284.1,317.3 H288.7 M284.1,330.4 H288.7" stroke="#707070" stroke-width="0.9" fill="none"/>
<rect x="283.9" y="321.4" width="5" height="5" fill="#000"/>
<line x1="72.8" y1="486.6" x2="292.9" y2="314.3" stroke="#ff0000" stroke-width="1.9" stroke-linecap="round"/>
<rect x="42.40" y="280.80" width="282.70" height="226.80" fill="none" stroke="#000" stroke-width="1.40"/>
<line x1="64.15" y1="507.60" x2="64.15" y2="511.60" stroke="#000" stroke-width="1.50"/>
<line x1="107.64" y1="507.60" x2="107.64" y2="511.60" stroke="#000" stroke-width="1.50"/>
<line x1="151.13" y1="507.60" x2="151.13" y2="511.60" stroke="#000" stroke-width="1.50"/>
<line x1="194.62" y1="507.60" x2="194.62" y2="511.60" stroke="#000" stroke-width="1.50"/>
<line x1="238.12" y1="507.60" x2="238.12" y2="511.60" stroke="#000" stroke-width="1.50"/>
<line x1="281.61" y1="507.60" x2="281.61" y2="511.60" stroke="#000" stroke-width="1.50"/>
<line x1="325.10" y1="507.60" x2="325.10" y2="511.60" stroke="#000" stroke-width="1.50"/>
<line x1="42.40" y1="507.60" x2="42.40" y2="509.60" stroke="#000" stroke-width="1.50"/>
<line x1="85.89" y1="507.60" x2="85.89" y2="509.60" stroke="#000" stroke-width="1.50"/>
<line x1="129.38" y1="507.60" x2="129.38" y2="509.60" stroke="#000" stroke-width="1.50"/>
<line x1="172.88" y1="507.60" x2="172.88" y2="509.60" stroke="#000" stroke-width="1.50"/>
<line x1="216.37" y1="507.60" x2="216.37" y2="509.60" stroke="#000" stroke-width="1.50"/>
<line x1="259.86" y1="507.60" x2="259.86" y2="509.60" stroke="#000" stroke-width="1.50"/>
<line x1="303.35" y1="507.60" x2="303.35" y2="509.60" stroke="#000" stroke-width="1.50"/>
<line x1="42.40" y1="507.60" x2="38.40" y2="507.60" stroke="#000" stroke-width="1.50"/>
<line x1="42.40" y1="482.40" x2="38.40" y2="482.40" stroke="#000" stroke-width="1.50"/>
<line x1="42.40" y1="457.20" x2="38.40" y2="457.20" stroke="#000" stroke-width="1.50"/>
<line x1="42.40" y1="432.00" x2="38.40" y2="432.00" stroke="#000" stroke-width="1.50"/>
<line x1="42.40" y1="406.80" x2="38.40" y2="406.80" stroke="#000" stroke-width="1.50"/>
<line x1="42.40" y1="381.60" x2="38.40" y2="381.60" stroke="#000" stroke-width="1.50"/>
<line x1="42.40" y1="356.40" x2="38.40" y2="356.40" stroke="#000" stroke-width="1.50"/>
<line x1="42.40" y1="331.20" x2="38.40" y2="331.20" stroke="#000" stroke-width="1.50"/>
<line x1="42.40" y1="306.00" x2="38.40" y2="306.00" stroke="#000" stroke-width="1.50"/>
<line x1="42.40" y1="280.80" x2="38.40" y2="280.80" stroke="#000" stroke-width="1.50"/>
<line x1="42.40" y1="495.00" x2="40.40" y2="495.00" stroke="#000" stroke-width="1.50"/>
<line x1="42.40" y1="469.80" x2="40.40" y2="469.80" stroke="#000" stroke-width="1.50"/>
<line x1="42.40" y1="444.60" x2="40.40" y2="444.60" stroke="#000" stroke-width="1.50"/>
<line x1="42.40" y1="419.40" x2="40.40" y2="419.40" stroke="#000" stroke-width="1.50"/>
<line x1="42.40" y1="394.20" x2="40.40" y2="394.20" stroke="#000" stroke-width="1.50"/>
<line x1="42.40" y1="369.00" x2="40.40" y2="369.00" stroke="#000" stroke-width="1.50"/>
<line x1="42.40" y1="343.80" x2="40.40" y2="343.80" stroke="#000" stroke-width="1.50"/>
<line x1="42.40" y1="318.60" x2="40.40" y2="318.60" stroke="#000" stroke-width="1.50"/>
<line x1="42.40" y1="293.40" x2="40.40" y2="293.40" stroke="#000" stroke-width="1.50"/>
<text x="64.1" y="524.2" font-size="11.30" font-weight="bold" text-anchor="middle" >0.04</text>
<text x="107.6" y="524.2" font-size="11.30" font-weight="bold" text-anchor="middle" >0.06</text>
<text x="151.1" y="524.2" font-size="11.30" font-weight="bold" text-anchor="middle" >0.08</text>
<text x="194.6" y="524.2" font-size="11.30" font-weight="bold" text-anchor="middle" >0.10</text>
<text x="238.1" y="524.2" font-size="11.30" font-weight="bold" text-anchor="middle" >0.12</text>
<text x="281.6" y="524.2" font-size="11.30" font-weight="bold" text-anchor="middle" >0.14</text>
<text x="325.1" y="524.2" font-size="11.30" font-weight="bold" text-anchor="middle" >0.16</text>
<text x="35.0" y="511.1" font-size="11.10" font-weight="bold" text-anchor="end" >-2.0</text>
<text x="35.0" y="485.9" font-size="11.10" font-weight="bold" text-anchor="end" >-1.9</text>
<text x="35.0" y="460.7" font-size="11.10" font-weight="bold" text-anchor="end" >-1.8</text>
<text x="35.0" y="435.5" font-size="11.10" font-weight="bold" text-anchor="end" >-1.7</text>
<text x="35.0" y="410.3" font-size="11.10" font-weight="bold" text-anchor="end" >-1.6</text>
<text x="35.0" y="385.1" font-size="11.10" font-weight="bold" text-anchor="end" >-1.5</text>
<text x="35.0" y="359.9" font-size="11.10" font-weight="bold" text-anchor="end" >-1.4</text>
<text x="35.0" y="334.7" font-size="11.10" font-weight="bold" text-anchor="end" >-1.3</text>
<text x="35.0" y="309.5" font-size="11.10" font-weight="bold" text-anchor="end" >-1.2</text>
<text x="35.0" y="284.3" font-size="11.10" font-weight="bold" text-anchor="end" >-1.1</text>
<text x="116.8" y="544.7" font-size="11.70" font-weight="bold" text-anchor="start" >Potential (V) vs.Ag/AgCl</text>
<text transform="translate(11.0,393.2) rotate(-90)" font-size="11.8" font-weight="bold" text-anchor="middle">Log current (mA)</text>
<text x="186.4" y="307.8" font-size="11.6" font-weight="bold">Slope = 6.77</text>
<text x="190.4" y="343.7" font-size="11.6" font-weight="bold">r<tspan font-size="8.2" dy="-4.5">2</tspan><tspan dy="4.5"> = 0.96</tspan></text>
<text x="298.4" y="298.3" font-size="17.00" font-weight="bold" text-anchor="start" >(c)</text>

<rect x="433.2" y="497.4" width="5.2" height="5.2" fill="#000"/>
<rect x="468.4" y="475.5" width="5.2" height="5.2" fill="#000"/>
<rect x="495.1" y="454.7" width="5.2" height="5.2" fill="#000"/>
<rect x="521.8" y="433.3" width="5.2" height="5.2" fill="#000"/>
<rect x="556.7" y="411.2" width="5.2" height="5.2" fill="#000"/>
<rect x="582.8" y="389.9" width="5.2" height="5.2" fill="#000"/>
<rect x="618.6" y="368.5" width="5.2" height="5.2" fill="#000"/>
<rect x="638.3" y="347.5" width="5.2" height="5.2" fill="#000"/>
<rect x="652.7" y="336.3" width="5.2" height="5.2" fill="#000"/>
<line x1="435.4" y1="501.9" x2="655.4" y2="341.1" stroke="#ff0000" stroke-width="1.9" stroke-linecap="round"/>
<rect x="382.70" y="285.10" width="293.40" height="235.90" fill="none" stroke="#000" stroke-width="1.40"/>
<line x1="382.70" y1="521.00" x2="382.70" y2="525.00" stroke="#000" stroke-width="1.50"/>
<line x1="412.04" y1="521.00" x2="412.04" y2="525.00" stroke="#000" stroke-width="1.50"/>
<line x1="441.38" y1="521.00" x2="441.38" y2="525.00" stroke="#000" stroke-width="1.50"/>
<line x1="470.72" y1="521.00" x2="470.72" y2="525.00" stroke="#000" stroke-width="1.50"/>
<line x1="500.06" y1="521.00" x2="500.06" y2="525.00" stroke="#000" stroke-width="1.50"/>
<line x1="529.40" y1="521.00" x2="529.40" y2="525.00" stroke="#000" stroke-width="1.50"/>
<line x1="558.74" y1="521.00" x2="558.74" y2="525.00" stroke="#000" stroke-width="1.50"/>
<line x1="588.08" y1="521.00" x2="588.08" y2="525.00" stroke="#000" stroke-width="1.50"/>
<line x1="617.42" y1="521.00" x2="617.42" y2="525.00" stroke="#000" stroke-width="1.50"/>
<line x1="646.76" y1="521.00" x2="646.76" y2="525.00" stroke="#000" stroke-width="1.50"/>
<line x1="676.10" y1="521.00" x2="676.10" y2="525.00" stroke="#000" stroke-width="1.50"/>
<line x1="397.37" y1="521.00" x2="397.37" y2="523.00" stroke="#000" stroke-width="1.50"/>
<line x1="426.71" y1="521.00" x2="426.71" y2="523.00" stroke="#000" stroke-width="1.50"/>
<line x1="456.05" y1="521.00" x2="456.05" y2="523.00" stroke="#000" stroke-width="1.50"/>
<line x1="485.39" y1="521.00" x2="485.39" y2="523.00" stroke="#000" stroke-width="1.50"/>
<line x1="514.73" y1="521.00" x2="514.73" y2="523.00" stroke="#000" stroke-width="1.50"/>
<line x1="544.07" y1="521.00" x2="544.07" y2="523.00" stroke="#000" stroke-width="1.50"/>
<line x1="573.41" y1="521.00" x2="573.41" y2="523.00" stroke="#000" stroke-width="1.50"/>
<line x1="602.75" y1="521.00" x2="602.75" y2="523.00" stroke="#000" stroke-width="1.50"/>
<line x1="632.09" y1="521.00" x2="632.09" y2="523.00" stroke="#000" stroke-width="1.50"/>
<line x1="661.43" y1="521.00" x2="661.43" y2="523.00" stroke="#000" stroke-width="1.50"/>
<text x="382.7" y="538.7" font-size="11.30" font-weight="bold" text-anchor="middle" >1.0</text>
<text x="412.0" y="538.7" font-size="11.30" font-weight="bold" text-anchor="middle" >1.1</text>
<text x="441.4" y="538.7" font-size="11.30" font-weight="bold" text-anchor="middle" >1.2</text>
<text x="470.7" y="538.7" font-size="11.30" font-weight="bold" text-anchor="middle" >1.3</text>
<text x="500.1" y="538.7" font-size="11.30" font-weight="bold" text-anchor="middle" >1.4</text>
<text x="529.4" y="538.7" font-size="11.30" font-weight="bold" text-anchor="middle" >1.5</text>
<text x="558.7" y="538.7" font-size="11.30" font-weight="bold" text-anchor="middle" >1.6</text>
<text x="588.1" y="538.7" font-size="11.30" font-weight="bold" text-anchor="middle" >1.7</text>
<text x="617.4" y="538.7" font-size="11.30" font-weight="bold" text-anchor="middle" >1.8</text>
<text x="646.8" y="538.7" font-size="11.30" font-weight="bold" text-anchor="middle" >1.9</text>
<text x="676.1" y="538.7" font-size="11.30" font-weight="bold" text-anchor="middle" >2.0</text>
<text x="377.2" y="503.1" font-size="12.00" font-weight="bold" text-anchor="end" >0.06</text>
<text x="377.2" y="460.2" font-size="12.00" font-weight="bold" text-anchor="end" >0.08</text>
<text x="377.2" y="417.3" font-size="12.00" font-weight="bold" text-anchor="end" >0.10</text>
<text x="377.2" y="374.4" font-size="12.00" font-weight="bold" text-anchor="end" >0.12</text>
<text x="377.2" y="331.5" font-size="12.00" font-weight="bold" text-anchor="end" >0.14</text>
<text x="377.2" y="288.6" font-size="12.00" font-weight="bold" text-anchor="end" >0.16</text>
<text x="524.8" y="554.8" font-size="11.50" font-weight="bold" text-anchor="middle" >Log v</text>
<text transform="translate(348.2,398.5) rotate(-90)" font-size="11.75" font-weight="bold" text-anchor="middle">Potential (V) vs. Ag/AgCl</text>
<text x="541" y="341.6" font-size="12.1" font-weight="bold">Slope = 0.098</text>
<text x="538.5" y="363.8" font-size="12.0" font-weight="bold">r<tspan font-size="8.4" dy="-4.6">2</tspan><tspan dy="4.6"> = 0.99</tspan></text>
<text x="653.6" y="305.6" font-size="17.00" font-weight="bold" text-anchor="start" >(d)</text>

</svg>
</body></html>
